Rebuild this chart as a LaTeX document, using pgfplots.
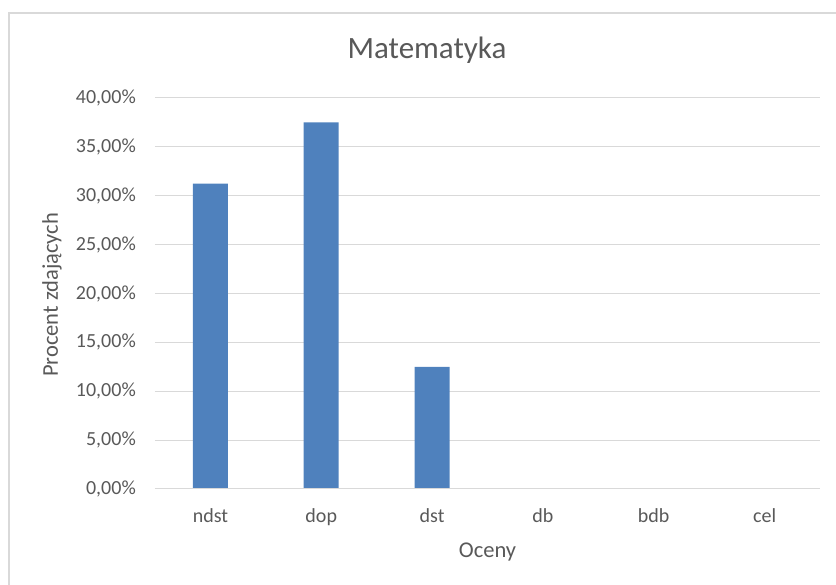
\documentclass[border=0pt]{standalone}
\usepackage{fontspec}
\setmainfont{Carlito}
\usepackage{pgfplots}
\pgfplotsset{compat=1.18}
\definecolor{barblue}{HTML}{4F81BD}
\definecolor{txtgrey}{HTML}{595959}
\definecolor{gridgrey}{HTML}{D9D9D9}

\begin{document}
\begin{tikzpicture}
% frame of the chart area (1px = 1pt)
\path[use as bounding box] (-155pt,-96pt) rectangle (681pt,489pt);
\draw[gridgrey, line width=1.5pt] (-146pt,-100pt) -- (-146pt,476pt) -- (690pt,476pt);

\begin{axis}[
    scale only axis,
    width=665pt, height=391pt,
    at={(55.4167pt,0pt)}, anchor=origin,
    xmin=-0.5, xmax=5.5,
    ymin=0, ymax=40,
    xtick={0,1,2,3,4,5},
    xticklabels={ndst,dop,dst,db,bdb,cel},
    ytick={0,5,...,40},
    yticklabel={\pgfmathprintnumber[fixed,fixed zerofill,precision=2,use comma]{\tick}\%},
    /pgf/number format/assume math mode=true,
    axis line style={draw=none},
    major tick length=0pt,
    ymajorgrids,
    grid style={gridgrey, line width=1pt},
    ticklabel style={font=\fontsize{20}{24}\selectfont, text=txtgrey},
    xticklabel style={anchor=base, inner sep=0pt, yshift=-34pt},
    yticklabel style={anchor=east, inner sep=0pt, xshift=-19pt},
    clip=false,
]
\addplot[ybar, bar width=35pt, fill=barblue, draw=none] coordinates {
    (0,31.25) (1,37.5) (2,12.5) (3,0) (4,0) (5,0)
};
\draw[gridgrey, line width=1pt] (axis cs:-0.5,0) -- (axis cs:5.5,0);
\end{axis}

\node[anchor=base, text=txtgrey, font=\fontsize{31}{36}\selectfont] at (272pt,430pt) {Matematyka};
\node[anchor=base, text=txtgrey, font=\fontsize{22.5}{27}\selectfont] at (332.5pt,-69pt) {Oceny};
\node[rotate=90, text=txtgrey, font=\fontsize{22.5}{27}\selectfont] at (-103pt,194pt) {Procent zdających};
\end{tikzpicture}
\end{document}
